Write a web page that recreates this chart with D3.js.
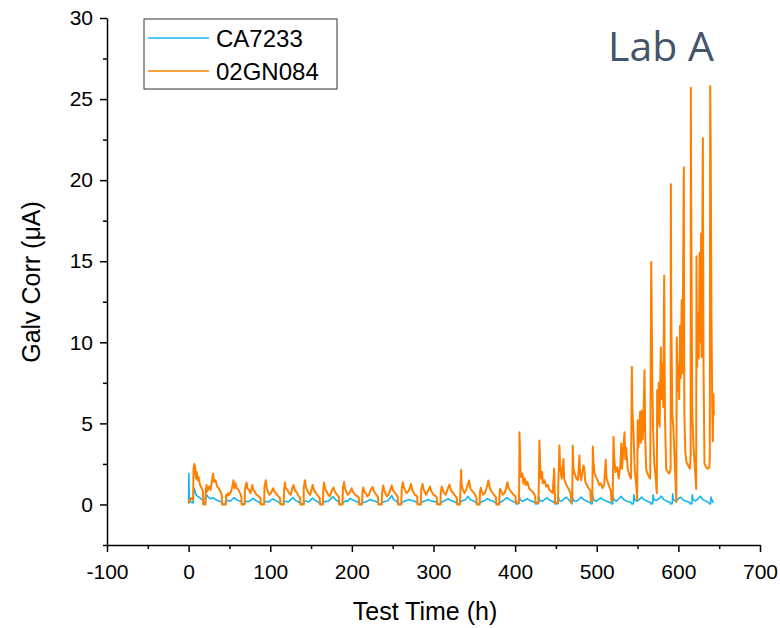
<!DOCTYPE html>
<html>
<head>
<meta charset="utf-8">
<script src="https://cdn.jsdelivr.net/npm/d3@7"></script>
<style>
    body { margin: 0; background: #fff; }
    svg text { font-family: "Liberation Sans", Arial, sans-serif; fill: #000; }
</style>
</head>
<body>
<div id="chart"></div>
<script>
// tick values
const xTicks = [-100, 0, 100, 200, 300, 400, 500, 600, 700];
const xMinor = [-50, 50, 150, 250, 350, 450, 550, 650];
const yTicks = [0, 5, 10, 15, 20, 25, 30];
const yMinor = [-2.5, 2.5, 7.5, 12.5, 17.5, 22.5, 27.5];

const seriesNames = ["CA7233", "02GN084"];

// CA7233: [test time (h), galv corr (uA)]
const ca7233 = [
    [0, 0.05], [0.3, 1.9], [0.8, 0.3], [3, 0.15], [5.5, 0.1], [6, 0.7], [7, 0.97], [8, 0.8], [9, 0.6], [11, 0.5],
    [13, 0.45], [15, 0.35], [17, 0.3], [18, 0.05], [20.5, 0.05], [21, 0.3], [22, 0.6], [24, 0.45], [27, 0.35],
    [30, 0.42], [33, 0.3], [37, 0.22], [40.5, 0.15], [41, 0.03], [45.5, 0.03], [46, 0.2], [48, 0.25], [51, 0.2],
    [54, 0.35], [56, 0.42], [58, 0.3], [61, 0.25], [64.5, 0.18], [65, 0.03], [68.5, 0.03], [69, 0.15], [71, 0.2],
    [74, 0.18], [77, 0.3], [79, 0.38], [82, 0.25], [86, 0.15], [88.5, 0.03], [92.5, 0.03], [93, 0.12], [95, 0.2],
    [98, 0.15], [101, 0.28], [103, 0.35], [106, 0.25], [110, 0.15], [112.5, 0.03], [116.5, 0.03], [117, 0.15],
    [119, 0.2], [122, 0.15], [125, 0.3], [128, 0.42], [131, 0.25], [135, 0.15], [137, 0.03], [141, 0.03],
    [141.5, 0.15], [144, 0.22], [147, 0.15], [150, 0.3], [152, 0.4], [155, 0.25], [159, 0.14], [161, 0.03],
    [164.5, 0.03], [165, 0.12], [168, 0.2], [171, 0.18], [174, 0.35], [177, 0.48], [180, 0.3], [184, 0.15],
    [184.5, 0.03], [188.5, 0.03], [189, 0.12], [192, 0.22], [195, 0.2], [198, 0.38], [200, 0.3], [204, 0.22],
    [208.5, 0.12], [209, 0.03], [212.5, 0.03], [213, 0.1], [216, 0.15], [219, 0.2], [222, 0.3], [225, 0.25],
    [229, 0.2], [232.5, 0.1], [233, 0.03], [236.5, 0.03], [237, 0.12], [240, 0.18], [243, 0.2], [246, 0.35],
    [249, 0.55], [251, 0.3], [255, 0.2], [256.5, 0.03], [260.5, 0.03], [261, 0.1], [264, 0.2], [267, 0.25],
    [270, 0.3], [273, 0.25], [277, 0.2], [280.5, 0.1], [281, 0.03], [284.5, 0.03], [285, 0.12], [288, 0.2],
    [291, 0.25], [294, 0.3], [297, 0.22], [301, 0.18], [304.5, 0.1], [305, 0.03], [308.5, 0.03], [309, 0.1],
    [312, 0.2], [315, 0.28], [318, 0.35], [321, 0.25], [325, 0.18], [328.5, 0.1], [329, 0.03], [332.5, 0.03],
    [333, 0.15], [336, 0.25], [339, 0.28], [342, 0.5], [345, 0.3], [349, 0.22], [352.5, 0.12], [353, 0.03],
    [356.5, 0.03], [357, 0.12], [360, 0.2], [363, 0.25], [366, 0.35], [369, 0.28], [373, 0.2], [376.5, 0.1],
    [377, 0.03], [380.5, 0.03], [381, 0.12], [384, 0.2], [387, 0.3], [390, 0.42], [393, 0.3], [397, 0.2],
    [400.5, 0.1], [401, 0.03], [404.5, 0.05], [405, 0.55], [406, 0.3], [409, 0.2], [412, 0.28], [415, 0.35],
    [418, 0.25], [422, 0.18], [424.5, 0.1], [425, 0.03], [428.5, 0.05], [429, 0.5], [430, 0.25], [433, 0.2],
    [436, 0.3], [439, 0.4], [442, 0.28], [446, 0.18], [448.5, 0.1], [449, 0.03], [452.5, 0.05], [453, 0.45],
    [454, 0.25], [457, 0.2], [460, 0.35], [463, 0.45], [466, 0.28], [469, 0.1], [469.5, 0.03], [470.5, 0.4],
    [472, 0.22], [475, 0.2], [478, 0.3], [481, 0.45], [484, 0.3], [488, 0.2], [492, 0.12], [493, 0.03],
    [494.5, 0.05], [495, 0.6], [496, 0.3], [499, 0.2], [502, 0.3], [505, 0.4], [508, 0.3], [512, 0.2],
    [517.5, 0.1], [518, 0.03], [519.5, 0.05], [520, 0.55], [521, 0.3], [524, 0.2], [527, 0.35], [530, 0.5],
    [533, 0.3], [537, 0.2], [541, 0.15], [542.5, 0.1], [543, 0.03], [545, 0.05], [545.5, 0.6], [546.5, 0.3],
    [549, 0.2], [552, 0.3], [555, 0.45], [558, 0.3], [562, 0.2], [566, 0.12], [566.5, 0.03], [568.5, 0.05],
    [569, 0.6], [570, 0.3], [573, 0.25], [576, 0.35], [579, 0.5], [582, 0.3], [586, 0.2], [590, 0.12],
    [590.5, 0.03], [592.5, 0.05], [593, 0.65], [594, 0.3], [597, 0.2], [600, 0.35], [603, 0.45], [606, 0.28],
    [610, 0.2], [614, 0.12], [614.5, 0.03], [616.5, 0.05], [617, 0.6], [618, 0.3], [621, 0.22], [624, 0.35],
    [627, 0.5], [630, 0.3], [634, 0.2], [637.5, 0.1], [638, 0.03], [639.5, 0.05], [640, 0.45], [641, 0.3],
    [643, 0.1]
];

// 02GN084: [test time (h), galv corr (uA)]
const gn084 = [
    [0, 0.1], [3, 0.4], [5.5, 0.3], [6, 2.2], [7, 2.5], [8, 2.3], [9, 1.6], [10, 2.0], [11, 1.5], [12, 1.7],
    [14, 1.2], [16, 1.0], [17.5, 0.8], [18, 0], [20.5, 0], [21, 0.9], [22, 1.2], [23, 0.8], [25, 1.1], [27, 0.9],
    [29, 1.6], [30, 1.9], [31, 1.4], [33, 1.5], [35, 1.1], [37, 1.0], [39, 0.8], [40.5, 0.6], [41, 0], [45.5, 0],
    [46, 0.6], [47, 0.5], [48.5, 0.7], [50, 0.6], [52, 0.8], [54, 1.2], [55, 1.5], [56, 1.0], [57.5, 1.3], [59, 1.0],
    [61, 0.9], [63, 0.7], [64.5, 0.5], [65, 0], [68.5, 0],
    [69, 0.9], [70, 1.2], [71, 1.35], [72, 1.0], [74, 0.9], [76, 0.7], [78, 1.2], [79, 0.9], [81, 0.8], [83, 0.6],
    [86, 0.5], [88, 0.4], [88.5, 0], [92.5, 0],
    [93, 1.1], [94.5, 1.5], [95.5, 1.1], [97, 0.8], [99, 0.6], [101, 0.7], [103.5, 1.0], [105, 0.8], [107, 0.7],
    [110, 0.5], [112, 0.4], [112.5, 0], [116.5, 0],
    [117, 0.9], [118, 1.35], [119, 1.0], [121, 0.9], [123, 0.7], [125, 0.6], [127, 1.0], [128.5, 1.2], [130, 0.9],
    [133, 0.7], [135, 0.5], [136.5, 0.4], [137, 0], [141, 0],
    [141, 1.0], [142.5, 1.5], [143.5, 1.1], [145, 0.9], [147, 0.7], [149, 0.6], [151, 1.0], [152, 1.2], [153.5, 0.9],
    [156, 0.7], [159, 0.5], [160.5, 0.4], [161, 0], [164.5, 0],
    [165, 0.9], [166, 1.35], [167, 1.0], [169, 0.8], [171, 0.6], [173, 0.5], [175, 0.8], [177.5, 1.05], [179, 0.8],
    [182, 0.6], [184, 0.45], [184.5, 0], [188.5, 0],
    [189, 1.0], [190.4, 1.38], [191.5, 1.0], [193, 0.8], [195, 0.6], [197, 0.7], [199.8, 1.0], [201, 0.8], [204, 0.6],
    [207, 0.5], [208.5, 0.4], [209, 0], [212.5, 0],
    [213, 0.8], [214, 1.05], [215, 0.8], [217, 0.7], [219, 0.5], [221, 0.6], [223, 0.9], [225.5, 1.07], [227, 0.8],
    [230, 0.6], [232, 0.45], [232.5, 0], [236.5, 0],
    [237, 0.7], [238.5, 1.17], [239.5, 0.9], [241, 0.7], [243, 0.5], [245, 0.6], [247, 0.9], [248.8, 1.17], [250, 0.9],
    [253, 0.7], [256, 0.5], [256.5, 0], [260.5, 0],
    [261, 0.9], [262.3, 1.37], [263.5, 1.1], [265, 0.9], [267, 0.7], [269, 0.8], [271, 1.0], [272.4, 1.27], [274, 0.9],
    [277, 0.6], [280, 0.5], [280.5, 0], [284.5, 0],
    [285, 0.9], [286.6, 1.27], [287.5, 1.0], [289, 0.8], [291, 0.6], [293, 0.8], [295.8, 1.11], [297, 0.85], [300, 0.6],
    [303, 0.5], [304, 0.4], [304.5, 0], [308.5, 0],
    [309, 0.8], [310.2, 1.11], [311.5, 0.9], [313, 0.7], [315, 0.6], [317, 0.9], [319.6, 1.23], [321, 0.9], [324, 0.7],
    [327, 0.5], [328.5, 0.4], [329, 0], [332.5, 0],
    [333, 0.9], [333.8, 2.14], [334.5, 1.2], [336, 0.9], [338, 0.7], [340, 0.9], [343.6, 1.48], [345, 1.0], [348, 0.8],
    [351, 0.6], [352.5, 0.45], [353, 0], [356.5, 0],
    [357, 0.8], [358, 1.03], [359, 0.8], [361, 0.6], [363, 0.7], [365, 1.0], [367.3, 1.48], [368.5, 1.1], [371, 0.8],
    [374, 0.6], [376.5, 0.45], [377, 0], [380.5, 0],
    [381, 0.7], [381.6, 0.97], [383, 0.8], [385, 0.6], [387, 0.7], [389, 1.0], [390.6, 1.37], [392, 1.0], [395, 0.8],
    [398, 0.6], [400.5, 0.5], [401, 0.1], [404.5, 0.1],
    [405, 1.0], [405.3, 4.46], [405.8, 3.64], [406.5, 2.0], [407.5, 1.7], [409, 1.9], [410, 1.3], [412, 1.6], [413, 1.2],
    [415, 1.4], [417, 1.0], [419, 0.9], [421, 0.8], [423, 0.7], [424.5, 0.5], [425, 0.1], [428.5, 0.1],
    [429, 1.2], [429.8, 3.95], [430.6, 2.5], [431.5, 1.6], [433, 2.0], [434, 1.3], [436, 1.5], [438, 1.1], [440, 1.2],
    [442, 0.9], [444, 0.8], [446, 0.7], [447.8, 2.2], [448.5, 0.8], [449, 0.1], [452.5, 0.1],
    [453, 1.4], [454.3, 3.64], [455, 2.4], [456, 2.0], [457, 1.6], [459.2, 2.8], [460, 1.6], [462, 1.3], [464, 1.1],
    [466, 0.9], [468, 0.7], [469, 0.1], [470, 0.3], [470.6, 3.64], [471.5, 2.2], [473, 1.9], [475, 1.6], [477, 1.5],
    [478.8, 3.02], [479.5, 2.0], [481, 1.5], [483.7, 2.4], [484.5, 2.3], [486, 1.4], [488, 1.2], [490, 1.0],
    [492, 0.9], [493, 0.2], [494.5, 0.2],
    [495.2, 3.58], [496, 2.6], [497, 2.0], [499, 1.7], [501, 1.5], [503, 1.2], [505, 1.3], [507, 1.0], [509, 1.2],
    [511.1, 2.75], [512, 1.6], [514, 1.3], [516, 1.0], [517.5, 0.8], [518, 0.2], [519.5, 0.3],
    [520.5, 4.16], [521.5, 2.8], [523, 2.0], [525, 2.3], [527, 1.6], [529, 2.5], [530, 3.76], [531, 2.2], [532, 3.0],
    [534, 4.46], [535, 2.8], [536, 3.5], [538, 2.2], [540, 1.8], [542, 1.6], [543, 8.5], [543.5, 6.0], [545, 4.5],
    [546.5, 2.2], [548.5, 1.1], [549.5, 0.3],
    [550.2, 5.19], [551, 3.5], [552, 4.2], [553, 5.7], [554, 3.8], [555, 5.8], [556, 4.0], [557, 4.6], [558.5, 8.27],
    [559.5, 4.0], [560.5, 2.2], [562, 1.9], [564, 1.7], [565.5, 1.6], [566.7, 14.96], [567.2, 12.8], [568, 8.0],
    [569, 4.6], [570.5, 2.5], [572, 1.8], [573.6, 0.7],
    [574, 7.04], [575, 5.0], [576, 7.5], [577, 4.8], [578.5, 9.7], [579.5, 6.5], [580.5, 8.7], [581.5, 6.0],
    [582.6, 14.1], [583.5, 5.6], [585, 2.2], [587, 2.0], [589, 1.9], [590.5, 2.2], [590.8, 19.75], [591.3, 11.8],
    [592.5, 5.6], [594, 4.6], [596, 2.0], [597.5, 0.14],
    [598, 10.3], [599, 7.0], [600, 8.6], [601, 6.5], [602, 11.0], [603, 7.8], [604, 12.6], [605, 8.1], [606.7, 20.8],
    [607.3, 5.6], [608.5, 3.2], [610, 2.6], [612, 2.4], [614, 2.2], [615, 3.0], [615.3, 25.7], [615.8, 17.9],
    [617, 5.6], [618.5, 3.6], [620, 2.5], [621.8, 0.96],
    [622.2, 15.3], [623, 8.5], [624, 11.8], [625, 9.0], [626, 15.5], [627, 10.0], [627.8, 16.7], [628.5, 9.1],
    [630, 22.6], [630.8, 8.5], [632, 2.5], [634, 2.3], [636, 2.2], [638, 2.3], [638.5, 3.0], [639, 25.8],
    [639.6, 22.1], [640.5, 11.8], [641.5, 6.0], [642.2, 3.9], [643, 6.8], [643.5, 5.5]
];

const seriesColors = ["#14B4F0", "#FF8000"];
const seriesWidths = [1.6, 2.0];

class GalvChart {
    constructor() {
        this.margin = { top: 18, right: 20, bottom: 83, left: 107 };
        this.width = 780 - this.margin.left - this.margin.right;
        this.height = 628 - this.margin.top - this.margin.bottom;

        this.svg = d3.select("#chart")
            .append("svg")
            .attr("width", 780)
            .attr("height", 628)
            .append("g")
            .attr("transform", "translate(" + this.margin.left + "," + this.margin.top + ")");

        // scales
        this.x = d3.scaleLinear().domain([-100, 700]).range([0, 653]);
        this.y = d3.scaleLinear().domain([-2.5, 30]).range([527, 0]);

        this.drawLines();
        this.drawAxes();
        this.drawLegend();
    }

    drawLines() {
        let line = d3.line()
            .x(d => this.x(d[0]))
            .y(d => this.y(d[1]));

        [ca7233, gn084].forEach((data, i) => {
            this.svg.append("path")
                .datum(data)
                .attr("fill", "none")
                .attr("stroke", seriesColors[i])
                .attr("stroke-width", seriesWidths[i])
                .attr("stroke-linejoin", "round")
                .attr("d", line);
        });
    }

    drawAxes() {
        // x axis (plain hyphen minus like the original)
        this.svg.append("g")
            .attr("transform", "translate(0," + 527 + ")")
            .call(d3.axisBottom(this.x).tickValues(xTicks).tickFormat(d => String(d))
                .tickSize(7).tickSizeOuter(0).tickPadding(12))
            .call(g => g.selectAll("text").style("font-size", "21px").attr("fill", "#000"));

        this.svg.append("g")
            .attr("transform", "translate(0," + 527 + ")")
            .call(d3.axisBottom(this.x).tickValues(xMinor).tickSize(4).tickFormat(""))
            .call(g => g.select(".domain").remove());

        // y axis
        this.svg.append("g")
            .call(d3.axisLeft(this.y).tickValues(yTicks).tickSize(7).tickSizeOuter(0).tickPadding(7))
            .call(g => g.selectAll("text").style("font-size", "21px").attr("fill", "#000"));

        this.svg.append("g")
            .call(d3.axisLeft(this.y).tickValues(yMinor).tickSize(4).tickFormat(""))
            .call(g => g.select(".domain").remove());

        this.svg.selectAll(".domain, .tick line")
            .attr("stroke", "#000")
            .attr("stroke-width", 1.5);

        // axis labels
        this.svg.append("text")
            .attr("text-anchor", "middle")
            .style("font-size", "25px")
            .attr("x", 318)
            .attr("y", 602)
            .text("Test Time (h)");

        this.svg.append("text")
            .attr("text-anchor", "middle")
            .style("font-size", "25px")
            .attr("transform", "rotate(-90)")
            .attr("x", -264)
            .attr("y", -67)
            .text("Galv Corr (μA)");

        // panel title
        this.svg.append("text")
            .attr("x", 501)
            .attr("y", 43)
            .style("font-family", "'Open Sans', sans-serif")
            .style("font-size", "41px")
            .style("fill", "#44546A")
            .text("Lab A");
    }

    drawLegend() {
        let legend = this.svg.append("g")
            .attr("transform", "translate(37,1)");

        legend.append("rect")
            .attr("width", 193)
            .attr("height", 70)
            .attr("fill", "#fff")
            .attr("stroke", "#333")
            .attr("stroke-width", 1);

        seriesNames.forEach((name, i) => {
            legend.append("line")
                .attr("x1", 4)
                .attr("x2", 65)
                .attr("y1", 19 + i * 33)
                .attr("y2", 19 + i * 33)
                .attr("stroke", seriesColors[i])
                .attr("stroke-width", 1.5);

            legend.append("text")
                .attr("x", 72)
                .attr("y", 28 + i * 33)
                .style("font-size", "24px")
                .text(name);
        });
    }
}

new GalvChart();
</script>
</body>
</html>
